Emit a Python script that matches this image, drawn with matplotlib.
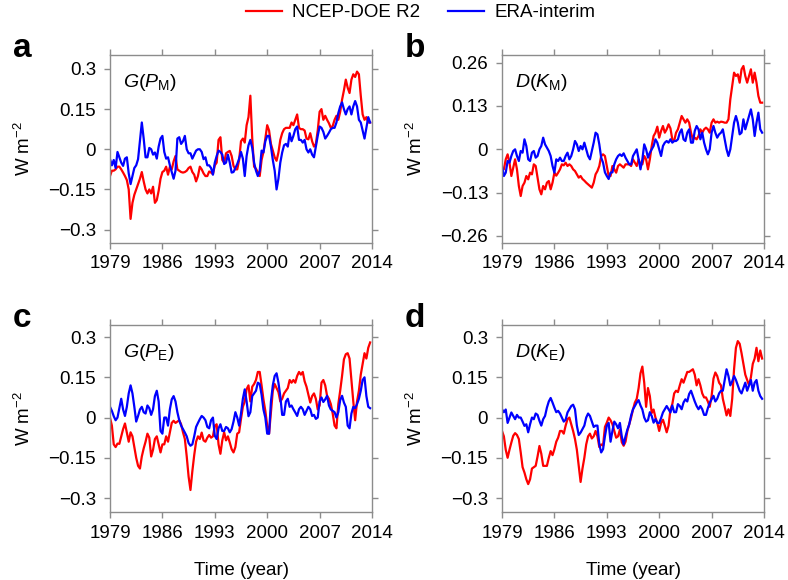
import numpy as np
import matplotlib
matplotlib.use('Agg')
import matplotlib.pyplot as plt

plt.rcParams['font.family'] = ['Liberation Sans', 'DejaVu Sans']
plt.rcParams['mathtext.fontset'] = 'custom'
plt.rcParams['mathtext.rm'] = 'Liberation Sans'
plt.rcParams['mathtext.it'] = 'Liberation Sans:italic'
plt.rcParams['mathtext.bf'] = 'Liberation Sans:bold'

# quarterly time axis 1979.00 ... 2013.75
years = 1979 + 0.25 * np.arange(140)

# ---- panel a: G(P_M) ----
a_ncep = [
 -0.10, -0.08, -0.08, -0.075,  -0.065, -0.065, -0.075, -0.087,
 -0.10, -0.115, -0.15, -0.26,  -0.20, -0.17, -0.15, -0.13,
 -0.11, -0.085, -0.12, -0.15,  -0.165, -0.15, -0.165, -0.14,
 -0.20, -0.19, -0.155, -0.11,  -0.085, -0.08, -0.065, -0.095,
 -0.065, -0.075, -0.045, -0.025,  -0.075, -0.08, -0.085, -0.087,
 -0.085, -0.08, -0.07, -0.065,  -0.085, -0.095, -0.12, -0.10,
 -0.065, -0.075, -0.09, -0.10,  -0.10, -0.083, -0.087, -0.093,
 -0.06, -0.05, 0.035, 0.045,  -0.04, -0.05, -0.015, -0.01,
 -0.006, -0.025, -0.062, -0.075,  -0.075, -0.04, 0.03, 0.04,
 0.025, 0.09, 0.12, 0.20,  0.04, -0.065, -0.073, -0.085,
 -0.10, -0.04, -0.01, 0.04,  0.09, 0.07, 0.02, -0.005,
 -0.03, -0.043, -0.012, 0.035,  0.06, 0.075, 0.08, 0.08,
 0.08, 0.10, 0.09, 0.11,  0.13, 0.08, 0.075, 0.075,
 0.07, 0.04, 0.037, 0.06,  0.03, 0.01, 0.02, 0.07,
 0.14, 0.15, 0.11, 0.125,  0.11, 0.097, 0.08, 0.087,
 0.11, 0.125, 0.11, 0.14,  0.185, 0.22, 0.26, 0.23,
 0.21, 0.26, 0.28, 0.27,  0.29, 0.28, 0.20, 0.13,
 0.11, 0.12, 0.10, 0.10]
a_era = [
 -0.037, -0.06, -0.04, -0.07,  -0.01, -0.03, -0.05, -0.062,
 -0.035, -0.03, -0.09, -0.13,  -0.10, -0.07, -0.06, -0.037,
 0.03, 0.10, 0.04, -0.03,  -0.03, 0.005, 0.0, -0.02,
 -0.012, -0.035, 0.01, 0.04,  0.05, -0.01, -0.035, -0.03,
 -0.06, -0.085, -0.11, -0.08,  0.04, 0.045, 0.02, 0.03,
 0.05, 0.0, -0.015, -0.015,  -0.035, -0.02, -0.005, 0.0,
 0.0, -0.01, -0.037, -0.03,  -0.06, -0.06, -0.07, -0.095,
 -0.05, -0.025, -0.005, -0.01,  -0.02, -0.055, -0.05, -0.02,
 -0.05, -0.087, -0.085, -0.07,  -0.055, -0.035, -0.01, -0.035,
 -0.10, -0.025, 0.015, 0.035,  0.005, -0.05, -0.08, -0.10,
 -0.08, -0.005, -0.012, 0.03,  0.05, 0.05, 0.01, -0.04,
 -0.08, -0.15, -0.11, -0.05,  -0.012, 0.015, 0.02, 0.01,
 0.06, 0.03, 0.05, 0.075,  0.085, 0.035, 0.035, 0.025,
 0.035, 0.0, -0.012, 0.0,  -0.02, -0.03, 0.01, 0.05,
 0.085, 0.08, 0.065, 0.04,  0.05, 0.062, 0.075, 0.08,
 0.08, 0.10, 0.135, 0.16,  0.175, 0.15, 0.13, 0.15,
 0.16, 0.13, 0.16, 0.18,  0.16, 0.11, 0.10, 0.07,
 0.04, 0.08, 0.12, 0.10]

# ---- panel b: D(K_M) ----
b_ncep = [
 -0.06, -0.06, -0.03, -0.015,  -0.04, -0.08, -0.055, -0.03,
 -0.06, -0.11, -0.14, -0.11,  -0.10, -0.08, -0.09, -0.07,
 -0.075, -0.045, -0.05, -0.085,  -0.12, -0.135, -0.11, -0.12,
 -0.10, -0.095, -0.12, -0.10,  -0.07, -0.079, -0.07, -0.06,
 -0.045, -0.048, -0.04, -0.05,  -0.045, -0.05, -0.06, -0.065,
 -0.075, -0.085, -0.08, -0.089,  -0.094, -0.10, -0.105, -0.11,
 -0.115, -0.10, -0.075, -0.065,  -0.05, -0.02, -0.015, -0.02,
 -0.05, -0.08, -0.08, -0.05,  -0.06, -0.07, -0.05, -0.045,
 -0.05, -0.055, -0.045, -0.045,  -0.045, -0.05, -0.03, -0.04,
 -0.05, -0.03, -0.045, -0.045,  -0.02, -0.03, -0.06, -0.03,
 0.01, 0.04, 0.05, 0.068,  0.035, 0.055, 0.07, 0.05,
 0.06, 0.075, 0.063, 0.03,  0.025, 0.05, 0.06, 0.08,
 0.10, 0.09, 0.08, 0.09,  0.08, 0.05, 0.03, 0.035,
 0.03, 0.04, 0.06, 0.05,  0.06, 0.065, 0.06, 0.05,
 0.08, 0.09, 0.08, 0.083,  0.08, 0.083, 0.082, 0.08,
 0.08, 0.09, 0.15, 0.19,  0.23, 0.22, 0.225, 0.20,
 0.24, 0.25, 0.22, 0.20,  0.22, 0.24, 0.20, 0.23,
 0.20, 0.16, 0.14, 0.14]
b_era = [
 -0.05, -0.08, -0.07, -0.035,  -0.04, -0.02, -0.005, 0.0,
 -0.02, -0.035, -0.005, -0.01,  0.03, 0.01, -0.03, -0.035,
 -0.01, -0.005, -0.025, -0.02,  0.0, 0.01, 0.035, 0.015,
 0.005, -0.005, -0.02, -0.05,  -0.07, -0.03, -0.035, -0.025,
 -0.035, -0.035, -0.02, -0.01,  -0.03, -0.02, 0.0, 0.025,
 0.015, -0.005, 0.01, 0.0,  0.02, 0.0, -0.02, -0.03,
 -0.005, 0.02, 0.05, 0.045,  0.015, -0.025, -0.04, -0.069,
 -0.08, -0.089, -0.07, -0.069,  -0.045, -0.03, -0.02, -0.015,
 -0.02, -0.012, -0.025, -0.035,  -0.045, -0.045, -0.02, -0.01,
 0.0, -0.03, -0.06, -0.03,  0.015, 0.0, -0.025, -0.01,
 0.0, 0.01, 0.03, 0.02,  0.0, -0.02, 0.01, 0.02,
 0.025, 0.02, 0.03, 0.02,  0.025, 0.025, 0.03, 0.05,
 0.06, 0.03, 0.025, 0.05,  0.06, 0.02, 0.02, 0.055,
 0.07, 0.06, 0.03, 0.05,  0.02, 0.0, -0.015, 0.0,
 0.05, 0.07, 0.05, 0.035,  0.045, 0.05, 0.06, 0.03,
 0.0, -0.02, 0.0, 0.04,  0.08, 0.10, 0.08, 0.045,
 0.05, 0.09, 0.06, 0.08,  0.10, 0.12, 0.09, 0.04,
 0.08, 0.11, 0.06, 0.05]

# ---- panel c: G(P_E) ----
c_ncep = [
 0.0, -0.03, -0.10, -0.11,  -0.097, -0.098, -0.07, -0.043,
 -0.022, -0.055, -0.09, -0.055,  -0.07, -0.11, -0.15, -0.18,
 -0.19, -0.145, -0.115, -0.09,  -0.06, -0.075, -0.145, -0.12,
 -0.08, -0.07, -0.10, -0.13,  -0.10, -0.10, -0.07, -0.09,
 -0.056, -0.02, -0.012, -0.02,  -0.015, -0.01, -0.025, -0.055,
 -0.08, -0.145, -0.22, -0.27,  -0.20, -0.14, -0.09, -0.07,
 -0.08, -0.056, -0.085, -0.09,  -0.075, -0.065, -0.075, -0.07,
 -0.031, -0.025, -0.10, -0.135,  -0.085, -0.055, -0.085, -0.07,
 -0.093, -0.118, -0.13, -0.11,  -0.06, -0.055, -0.005, 0.04,
 0.06, 0.106, 0.12, 0.06,  0.115, 0.125, 0.14, 0.17,
 0.17, 0.12, 0.067, 0.025,  -0.03, -0.06, 0.02, 0.10,
 0.125, 0.11, 0.095, 0.06,  0.07, 0.09, 0.10, 0.11,
 0.14, 0.13, 0.14, 0.13,  0.155, 0.17, 0.16, 0.17,
 0.135, 0.115, 0.085, 0.056,  0.08, 0.09, 0.07, 0.03,
 0.045, 0.13, 0.14, 0.12,  0.081, 0.07, 0.05, 0.015,
 -0.03, -0.04, 0.05, 0.10,  0.155, 0.217, 0.236, 0.24,
 0.22, 0.14, 0.06, -0.01,  0.06, 0.10, 0.16, 0.20,
 0.24, 0.22, 0.26, 0.28]
c_era = [
 0.04, 0.025, 0.005, -0.01,  0.0, 0.035, 0.07, 0.03,
 0.006, 0.04, 0.09, 0.12,  0.09, 0.04, -0.015, 0.006,
 0.03, 0.04, 0.02, 0.015,  0.045, 0.035, 0.01, 0.031,
 0.08, 0.10, 0.06, -0.05,  -0.06, 0.0, 0.0, -0.03,
 0.031, 0.068, 0.08, 0.06,  0.02, -0.01, -0.03, -0.043,
 -0.056, -0.07, -0.095, -0.105,  -0.10, -0.07, -0.035, -0.02,
 -0.006, 0.006, 0.0, -0.01,  -0.035, -0.04, -0.01, 0.0,
 -0.068, -0.08, -0.04, -0.025,  -0.05, -0.05, -0.035, -0.04,
 -0.055, -0.043, -0.015, 0.02,  0.0, -0.03, 0.015, 0.07,
 0.105, 0.06, 0.005, 0.02,  0.08, 0.09, 0.10, 0.13,
 0.125, 0.085, 0.03, 0.0,  -0.06, -0.06, 0.06, 0.12,
 0.155, 0.165, 0.13, 0.08,  0.01, 0.01, 0.06, 0.07,
 0.04, 0.045, 0.031, 0.019,  0.006, 0.031, 0.04, 0.031,
 0.01, 0.025, 0.04, 0.031,  0.006, 0.01, -0.005, 0.0,
 0.06, 0.075, 0.058, 0.068,  0.081, 0.045, 0.03, 0.025,
 0.02, 0.0, 0.02, 0.065,  0.081, 0.056, 0.04, -0.03,
 -0.04, 0.015, 0.04, 0.035,  0.05, 0.07, 0.10, 0.14,
 0.15, 0.08, 0.04, 0.035]

# ---- panel d: D(K_E) ----
d_ncep = [
 -0.05, -0.07, -0.12, -0.15,  -0.12, -0.093, -0.068, -0.058,
 -0.065, -0.08, -0.13, -0.185,  -0.205, -0.23, -0.248, -0.23,
 -0.19, -0.185, -0.18, -0.145,  -0.106, -0.135, -0.18, -0.18,
 -0.18, -0.15, -0.125, -0.14,  -0.118, -0.09, -0.075, -0.05,
 -0.05, -0.06, -0.03, -0.006,  0.0, -0.025, -0.05, -0.08,
 -0.12, -0.18, -0.24, -0.19,  -0.15, -0.10, -0.07, -0.06,
 -0.078, -0.07, -0.05, -0.07,  -0.11, -0.10, -0.105, -0.035,
 -0.019, 0.0, -0.01, -0.025,  -0.05, -0.075, -0.07, -0.045,
 -0.092, -0.105, -0.09, -0.05,  -0.025, 0.0, 0.03, 0.056,
 0.07, 0.11, 0.165, 0.19,  0.13, 0.04, 0.11, 0.08,
 0.017, 0.03, 0.0, -0.02,  -0.05, -0.02, -0.008, -0.03,
 -0.055, -0.03, 0.03, 0.05,  0.09, 0.10, 0.095, 0.12,
 0.143, 0.13, 0.15, 0.17,  0.17, 0.175, 0.18, 0.16,
 0.12, 0.143, 0.12, 0.09,  0.075, 0.075, 0.06, 0.04,
 0.08, 0.145, 0.168, 0.155,  0.13, 0.12, 0.07, 0.04,
 0.008, 0.031, 0.006, 0.07,  0.18, 0.26, 0.285, 0.275,
 0.24, 0.20, 0.16, 0.14,  0.12, 0.15, 0.20, 0.22,
 0.26, 0.21, 0.25, 0.22]
d_era = [
 0.031, 0.02, 0.03, -0.02,  0.0, 0.019, 0.006, -0.006,
 0.01, 0.0, 0.0, -0.015,  -0.031, -0.025, -0.055, -0.025,
 0.0, -0.006, 0.015, 0.01,  -0.012, -0.03, -0.006, 0.006,
 0.037, 0.06, 0.073, 0.056,  0.037, 0.02, 0.025, 0.015,
 0.0, -0.015, -0.008, 0.019,  0.031, 0.043, 0.048, 0.031,
 -0.03, -0.065, -0.056, -0.043,  -0.03, 0.0, 0.015, 0.006,
 -0.015, -0.035, -0.03, -0.03,  -0.10, -0.13, -0.118, -0.07,
 -0.03, -0.02, -0.09, -0.05,  -0.015, -0.025, -0.04, -0.02,
 -0.07, -0.10, -0.07, -0.045,  -0.025, 0.008, 0.031, 0.043,
 0.056, 0.065, 0.045, 0.03,  0.0, -0.015, -0.01, 0.02,
 0.006, -0.019, -0.006, -0.02,  -0.02, -0.002, 0.019, 0.031,
 0.043, 0.031, 0.019, 0.045,  0.02, 0.02, 0.05, 0.043,
 0.031, 0.056, 0.068, 0.06,  0.088, 0.10, 0.08, 0.06,
 0.043, 0.031, 0.043, 0.031,  0.01, 0.01, 0.035, 0.055,
 0.068, 0.081, 0.06, 0.07,  0.09, 0.10, 0.10, 0.14,
 0.18, 0.155, 0.12, 0.135,  0.155, 0.14, 0.12, 0.10,
 0.09, 0.11, 0.13, 0.10,  0.12, 0.14, 0.10, 0.13,
 0.14, 0.10, 0.08, 0.07]

x_ticks = [1979, 1986, 1993, 2000, 2007, 2014]
x_ticklabels = ['1979', '1986', '1993', '2000', '2007', '2014']
y_ticks_03 = [-0.3, -0.15, 0, 0.15, 0.3]
y_labels_03 = ['\u22120.3', '\u22120.15', '0', '0.15', '0.3']
y_ticks_026 = [-0.26, -0.13, 0, 0.13, 0.26]
y_labels_026 = ['\u22120.26', '\u22120.13', '0', '0.13', '0.26']

panels = [
    dict(letter='a', title=r'$G(P_{\mathrm{M}})$', ncep=a_ncep, era=a_era,
         yt=y_ticks_03, yl=y_labels_03, ylim=(-0.35, 0.352)),
    dict(letter='b', title=r'$D(K_{\mathrm{M}})$', ncep=b_ncep, era=b_era,
         yt=y_ticks_026, yl=y_labels_026, ylim=(-0.281, 0.283)),
    dict(letter='c', title=r'$G(P_{\mathrm{E}})$', ncep=c_ncep, era=c_era,
         yt=y_ticks_03, yl=y_labels_03, ylim=(-0.352, 0.345)),
    dict(letter='d', title=r'$D(K_{\mathrm{E}})$', ncep=d_ncep, era=d_era,
         yt=y_ticks_03, yl=y_labels_03, ylim=(-0.352, 0.345)),
]

W, H = 788, 580
fig = plt.figure(figsize=(W / 100, H / 100), dpi=100)

# axes boxes in pixels: (left, top, right, bottom)
boxes = [(110, 55, 372, 243), (502, 55, 764, 243),
         (110, 325, 372, 512), (502, 325, 764, 512)]

FS = 13.5
spine_col = '#8c8c8c'
lines = []
for p, (l, t, r, b) in zip(panels, boxes):
    ax = fig.add_axes([l / W, 1 - b / H, (r - l) / W, (b - t) / H])
    h1, = ax.plot(years, p['ncep'], color='#ff0000', lw=1.6)
    h2, = ax.plot(years, p['era'], color='#0000ff', lw=1.6)
    lines = [h1, h2]
    ax.set_xlim(1979, 2014)
    ax.set_ylim(*p['ylim'])
    ax.set_xticks(x_ticks)
    ax.set_xticklabels(x_ticklabels)
    ax.set_yticks(p['yt'])
    ax.set_yticklabels(p['yl'])
    for s in ax.spines.values():
        s.set_color(spine_col)
        s.set_linewidth(1.0)
    ax.tick_params(axis='both', direction='out', length=4, width=1.0,
                   color=spine_col, labelsize=FS, labelcolor='black')
    ax.tick_params(axis='x', top=True, pad=5)
    ax.tick_params(axis='y', right=True, pad=6)
    ax.set_ylabel(r'W m$^{-2}$', fontsize=FS)
    ax.yaxis.set_label_coords(-0.29, 0.5)
    if p['letter'] in ('c', 'd'):
        ax.set_xlabel('Time (year)', fontsize=FS)
        ax.xaxis.set_label_coords(0.5, -0.27)
    ax.text(0.05, 0.83, p['title'], transform=ax.transAxes, fontsize=14,
            ha='left', va='baseline')
    fig.text((l - 97) / W, 1 - (t + 2) / H, p['letter'], fontsize=24,
             fontweight='bold', ha='left', va='baseline')

fig.legend(lines, ['NCEP-DOE R2', 'ERA-interim'], loc='center',
           bbox_to_anchor=(0.534, 0.978), ncol=2, frameon=False,
           fontsize=FS, handlelength=1.9, handletextpad=0.55,
           columnspacing=1.5)

fig.savefig('out.png', dpi=100)
